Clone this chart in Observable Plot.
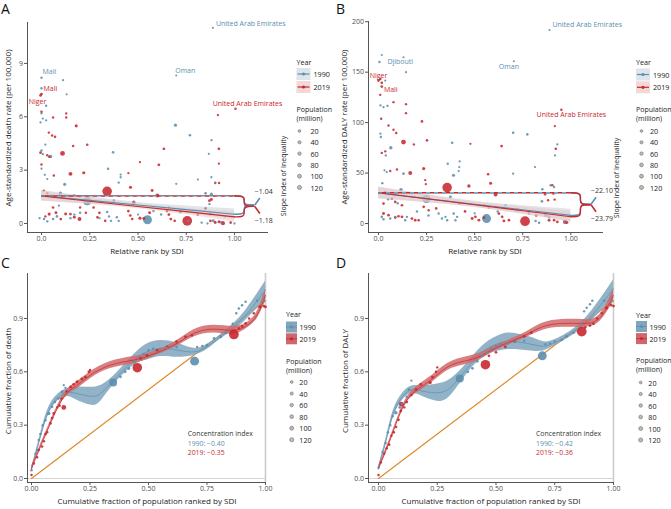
<!DOCTYPE html>
<html><head><meta charset="utf-8">
<script src="https://cdn.jsdelivr.net/npm/d3@7"></script>
<script src="https://cdn.jsdelivr.net/npm/@observablehq/plot@0.6"></script>
<style>
body{margin:0;background:#fff;font-family:"Open Sans",sans-serif;}
#root{position:relative;width:671px;height:509px;overflow:hidden;background:#fff;}
.panel{position:absolute;overflow:visible;}
#overlay{position:absolute;left:0;top:0;}
</style></head><body><div id="root"></div>
<script>
// ---------- data ----------
const years = ["1990", "2019"];
const popLegend = [20, 40, 60, 80, 100, 120];
const rankTicks = [0, 0.25, 0.5, 0.75, 1];
const rankTickLabels = ["0.0", "0.25", "0.50", "0.75", "1.00"];
const fracTickLabels = ["0.00", "0.25", "0.50", "0.75", "1.00"];
const deathRateTicks = [0, 3, 6, 9];
const dalyRateTicks = [0, 50, 100, 150, 200];
const fracYTicks = [0, 0.3, 0.6, 0.9];
const fracYLabels = ["0.0", "0.3", "0.6", "0.9"];

// Panel A: [relative rank, death rate, population (million)]
const deathRank1990 = [
[0.888,11.0,3],[0.0,8.19,8],[0.112,8.06,5],[0.698,8.32,2],[0.0,7.6,8],[0.13,7.26,5],[0.024,6.62,8],
[0.0,6.19,6],[-0.005,5.68,6],[0.007,5.9,6],[0.024,5.8,6],[0.694,5.53,40],[0.769,4.96,15],[0.881,4.68,5],
[0.0,4.1,10],[0.007,3.9,6],[0.047,3.77,60],[0.02,4.43,5],[0.371,4.0,15],[0.867,3.92,5],[0.0,3.08,5],
[0.017,2.74,5],[0.03,2.5,5],[0.345,3.08,15],[0.41,2.75,5],[0.41,2.6,5],[0.40,2.3,8],[0.698,2.23,5],
[0.81,2.47,4],[0.88,2.6,5],[0.9,2.3,5],[0.12,2.2,40],[0.05,1.56,10],[0.098,1.7,60],[0.237,1.25,870],
[0.375,1.28,25],[0.478,1.09,20],[0.549,0.21,1150],[0.72,0.68,80],[0.85,1.7,20],[0.875,0.53,60],
[0.89,0.15,30],[0.93,0.07,10],[1.0,0.0,5],[-0.01,0.3,5],[0.013,0.25,10],[0.03,0.12,8],[0.06,0.25,10],
[0.08,0.4,15],[0.34,0.65,10],[0.35,0.4,8],[0.36,0.15,8],[0.39,0.35,10],[0.40,0.15,8],[0.76,0.15,8],
[0.83,0.05,10],[0.86,0.0,5],[0.2,0.6,10],[0.15,0.3,8],[0.09,1.0,6],[0.17,0.5,8],[0.62,0.5,10],
[0.66,0.9,10],[0.95,0.4,8],[0.58,0.7,10],[0.87,1.1,8],[0.88,1.65,40],[0.3,0.3,6],[0.5,0.5,5]
];
const deathRank2019 = [
[0.0,7.28,20],[-0.005,7.2,20],[0.0,6.28,15],[0.128,6.19,8],[0.128,5.96,8],[0.06,5.96,8],[0.18,5.49,40],
[1.005,6.45,10],[0.914,6.09,6],[0.038,5.11,8],[0.055,4.95,8],[0.07,4.87,12],[0.164,4.36,8],[0.237,4.43,15],
[0.109,3.94,200],[0.634,4.2,20],[0.919,4.2,20],[-0.005,3.98,20],[0.03,3.84,8],[0.04,3.75,8],[0.0,3.32,8],
[0.608,3.3,25],[0.51,3.45,5],[0.919,3.36,5],[0.15,2.79,100],[0.219,2.85,40],[0.064,2.7,10],[0.34,1.81,1370],
[0.461,2.04,40],[0.45,2.83,5],[0.9,2.28,8],[0.92,2.28,8],[0.573,1.85,30],[0.6,1.57,100],[0.87,1.28,20],
[0.478,1.19,60],[0.168,1.57,10],[0.012,1.85,8],[0.03,1.7,8],[0.197,0.25,100],[0.51,0.3,40],[0.53,0.28,30],
[0.755,0.15,1430],[0.94,0.02,120],[0.875,0.15,20],[0.9,0.06,30],[0.92,0.1,40],[0.98,0.05,20],[0.04,0.53,40],
[0.075,0.6,30],[0.1,0.25,20],[0.125,0.53,30],[0.15,0.53,20],[0.17,0.35,30],[0.27,0.9,15],[0.3,0.6,20],
[0.29,0.35,20],[0.65,0.7,20],[0.66,0.5,25],[0.67,0.25,25],[0.69,0.15,15],[0.45,0.7,20],[0.46,0.45,20],
[0.47,0.25,15],[0.2,0.9,10],[0.23,0.6,10],[0.02,0.4,10],[0.06,0.9,15],[0.81,0.5,15],[0.85,0.85,20],
[0.88,1.35,30],[0.33,0.15,15],[0.56,0.6,30]
];
// Panel B: [relative rank, DALY rate, population (million)]
const dalyRank1990 = [
[0.889,191.8,3],[0.017,167,3],[0.005,160,8],[0.13,164.7,3],[0.143,150,3],[0.035,141.7,5],[0.704,160.8,2],
[0.01,117,5],[0.026,115.3,5],[0.047,116.6,8],[0.01,89,5],[0.012,85.7,8],[0.064,75,60],[0.038,67.5,8],
[0.7,90,15],[0.774,88.3,15],[0.93,78.4,5],[0.918,67.5,5],[0.383,80,15],[0.39,47.8,40],[0.36,59.3,10],
[0.422,61.5,5],[0.42,56,5],[0.417,52,5],[0.031,52.7,5],[0.043,51,5],[0.13,49.4,15],[0.7,49.4,5],
[0.814,56,5],[0.852,34,15],[0.895,37.9,8],[0.913,36.2,8],[0.249,24.4,870],[0.117,33.6,60],[0.374,26.4,30],
[0.574,15.8,20],[0.562,4.9,1150],[0.722,13.8,80],[0.783,9.9,20],[0.817,2.6,10],[0.835,0.7,10],[0.87,8.2,60],
[0.887,6.6,40],[0.313,9.9,10],[0.33,4.9,10],[0.348,6.6,8],[0.357,3.3,8],[0.391,9.9,15],[0.409,6.6,8],
[0.4,3.3,8],[0.017,6.6,15],[0.026,4.3,10],[0.061,4.9,10],[0.087,6.6,10],[0.139,3.3,10],[0.148,6.6,10],
[0.968,1.6,8],[0.05,24,10],[0.1,20,10],[0.2,12,10],[0.26,8,10],[0.62,12,10],[0.66,18,10],[0.5,10,5],
[0.85,22,20],[0.02,40,8]
];
const dalyRank2019 = [
[0.0,141.7,20],[0.009,143.3,20],[0.017,139.4,15],[0.017,135.7,20],[0.009,127.5,10],[0.078,120.3,8],
[0.143,118.3,8],[0.143,109.4,8],[0.014,103.8,10],[0.052,97.2,8],[0.078,92.9,8],[0.092,89.6,10],
[0.226,101.2,20],[0.13,80.7,200],[0.184,78.4,8],[0.252,82.4,15],[0.478,79,3],[0.64,76.8,20],
[0.951,112.7,10],[0.917,96.5,5],[0.922,74.1,15],[0.017,70,8],[0.035,71.5,8],[0.061,52,8],[0.096,53.5,8],
[0.165,50,100],[0.235,54.4,40],[0.243,43,5],[0.246,39,5],[0.357,35.6,1370],[0.47,37.2,60],[0.57,48.8,15],
[0.583,39.9,40],[0.609,28.7,100],[0.866,29,15],[0.904,38,8],[0.91,29.6,8],[0.916,23.7,8],[0.882,23,8],
[0.762,2.3,1430],[0.97,1.6,120],[0.98,1.0,30],[0.887,3.3,30],[0.913,3.3,20],[0.93,1.6,20],[0.026,9.9,30],
[0.052,8.2,20],[0.087,5.9,20],[0.104,7.2,20],[0.122,6.6,30],[0.174,4.9,25],[0.191,3.3,20],[0.209,3.3,15],
[0.487,4.9,30],[0.504,6.6,20],[0.522,3.3,25],[0.548,5.9,25],[0.626,9.9,20],[0.643,6.6,20],[0.652,2.6,20],
[0.678,3.3,20],[0.026,19.8,20],[0.035,31.3,10],[0.07,24.7,20],[0.087,21.4,15],[0.122,18.1,20],
[0.235,16.5,20],[0.261,13.2,10],[0.3,15,15],[0.42,20,15],[0.45,12,20],[0.55,18,15],[0.78,12,20],[0.82,8,15]
];
// Regression (slope index of inequality)
const deathIntercepts = [1.56, 1.55];
const deathSII = [-1.04, -1.18];
const dalyIntercepts = [30.2, 30.5];
const dalySII = [-22.10, -23.79];
const rankKnots = [0, 0.25, 0.5, 0.75, 1];
const deathBandHW = [[0.3,0.2,0.14,0.2,0.3],[0.28,0.18,0.13,0.18,0.28]];
const dalyBandHW = [[6,4,3,4,6],[5.5,3.8,2.8,3.8,5.5]];

// Labelled countries: [name, year index, x, y]
const deathLabels = [["United Arab Emirates",0,0.888,11.0],["Mali",0,0.0,8.19],["Oman",0,0.698,8.32],
  ["Mali",1,0.0,7.28],["Niger",1,-0.005,7.2],["United Arab Emirates",1,1.005,6.45]];
const dalyLabels = [["United Arab Emirates",0,0.889,191.8],["Djibouti",0,0.005,160],["Oman",0,0.704,160.8],
  ["Niger",1,0.0,141.7],["Mali",1,0.017,135.7],["United Arab Emirates",1,0.951,112.7]];

// Panel C/D concentration curves (fitted curve readings) and points [cum pop, cum fraction, pop]
const deathConcX1990 = [0,0.038,0.081,0.138,0.188,0.252,0.295,0.352,0.437,0.494,0.551,0.622,0.694,0.75,0.808,0.865,0.922,1.0];
const deathConcY1990 = [0.047,0.234,0.40,0.478,0.48,0.463,0.478,0.553,0.666,0.712,0.731,0.722,0.712,0.74,0.797,0.853,0.928,1.06];
const deathConcHW1990 = [0.012,0.015,0.02,0.02,0.035,0.05,0.045,0.025,0.03,0.045,0.045,0.04,0.02,0.015,0.012,0.02,0.03,0.05];
const deathConcX2019 = [0,0.038,0.081,0.138,0.195,0.252,0.338,0.437,0.509,0.608,0.694,0.78,0.865,0.922,0.964,1.0];
const deathConcY2019 = [0.056,0.178,0.31,0.459,0.525,0.581,0.638,0.666,0.694,0.75,0.816,0.84,0.834,0.862,0.919,1.03];
const deathConcHW2019 = [0.012,0.012,0.012,0.015,0.02,0.02,0.02,0.02,0.015,0.015,0.02,0.022,0.022,0.015,0.02,0.035];
const dalyConcX1990 = [0,0.036,0.071,0.128,0.185,0.256,0.313,0.384,0.455,0.526,0.583,0.669,0.725,0.81,0.896,1.0];
const dalyConcY1990 = [0.056,0.232,0.39,0.492,0.492,0.483,0.52,0.63,0.724,0.766,0.77,0.75,0.75,0.807,0.9,1.067];
const dalyConcHW1990 = [0.012,0.015,0.02,0.02,0.03,0.05,0.045,0.03,0.035,0.045,0.045,0.035,0.02,0.015,0.025,0.05];
const dalyConcX2019 = [0,0.043,0.085,0.128,0.185,0.242,0.313,0.413,0.498,0.612,0.697,0.782,0.868,0.939,1.0];
const dalyConcY2019 = [0.056,0.195,0.343,0.455,0.52,0.575,0.64,0.677,0.733,0.798,0.853,0.872,0.872,0.9,1.03];
const dalyConcHW2019 = [0.012,0.012,0.012,0.015,0.02,0.02,0.02,0.02,0.015,0.015,0.02,0.022,0.022,0.02,0.035];

const deathConcPts1990 = [[0.0,0.047,10],[0.017,0.14,8],[0.024,0.16,8],[0.031,0.216,10],[0.038,0.25,10],[0.048,0.3,10],
[0.06,0.328,10],[0.074,0.366,60],[0.088,0.403,20],[0.1,0.43,10],[0.115,0.45,10],[0.131,0.487,20],[0.138,0.525,5],
[0.145,0.51,5],[0.349,0.54,870],[0.38,0.572,20],[0.40,0.60,20],[0.416,0.619,30],[0.44,0.655,20],[0.46,0.68,20],
[0.48,0.70,20],[0.5,0.72,20],[0.52,0.73,15],[0.55,0.73,15],[0.58,0.735,10],[0.62,0.74,10],[0.697,0.66,1150],
[0.708,0.74,10],[0.73,0.745,10],[0.75,0.75,10],[0.78,0.788,20],[0.808,0.797,40],[0.83,0.82,10],[0.86,0.87,10],
[0.875,0.93,10],[0.886,0.956,10],[0.9,0.975,10],[0.915,0.994,10],[0.964,1.0,10],[0.993,1.0,10]];
const deathConcPts2019 = [[0.0,0.02,10],[0.01,0.084,10],[0.024,0.12,10],[0.031,0.16,10],[0.045,0.18,20],[0.053,0.21,10],
[0.06,0.25,20],[0.067,0.26,10],[0.081,0.31,20],[0.088,0.34,20],[0.095,0.366,20],[0.11,0.4,10],[0.12,0.41,20],
[0.128,0.45,10],[0.138,0.4,200],[0.15,0.49,10],[0.167,0.516,20],[0.18,0.53,10],[0.195,0.544,40],[0.215,0.56,20],
[0.23,0.57,20],[0.245,0.6,20],[0.25,0.61,10],[0.452,0.623,1370],[0.466,0.675,20],[0.494,0.693,20],[0.537,0.722,20],
[0.58,0.74,20],[0.62,0.77,20],[0.658,0.797,20],[0.686,0.806,10],[0.865,0.81,1430],[0.886,0.844,20],[0.9,0.855,20],
[0.915,0.872,20],[0.93,0.9,10],[0.95,0.93,10],[0.976,0.966,40],[0.993,0.97,20],[1.0,0.965,20]];
const dalyConcPts1990 = [[0,0.06,10],[0.017,0.15,8],[0.03,0.2,10],[0.04,0.26,10],[0.05,0.3,10],[0.06,0.35,10],
[0.074,0.37,60],[0.09,0.40,20],[0.1,0.42,10],[0.12,0.46,10],[0.13,0.5,20],[0.14,0.55,5],[0.346,0.562,870],
[0.38,0.6,20],[0.4,0.62,20],[0.42,0.66,30],[0.44,0.69,20],[0.46,0.71,20],[0.48,0.73,20],[0.5,0.745,20],
[0.52,0.755,15],[0.55,0.76,15],[0.58,0.77,10],[0.62,0.775,10],[0.697,0.69,1150],[0.71,0.755,10],[0.73,0.76,10],
[0.75,0.77,10],[0.78,0.78,20],[0.8,0.8,40],[0.83,0.82,10],[0.86,0.87,10],[0.875,0.94,10],[0.886,0.96,10],
[0.9,0.98,10],[0.91,1.0,10],[0.96,1.0,10],[0.99,1.0,10]];
const dalyConcPts2019 = [[0,0.02,10],[0.01,0.09,10],[0.024,0.14,10],[0.035,0.17,10],[0.045,0.19,20],[0.055,0.24,10],
[0.065,0.26,20],[0.075,0.29,10],[0.085,0.33,20],[0.095,0.38,20],[0.097,0.418,200],[0.11,0.4,10],[0.12,0.43,20],
[0.14,0.47,10],[0.16,0.5,20],[0.18,0.53,10],[0.22,0.54,40],[0.23,0.57,20],[0.245,0.6,20],[0.25,0.625,10],
[0.455,0.64,1370],[0.47,0.69,20],[0.5,0.71,20],[0.54,0.74,20],[0.58,0.77,20],[0.62,0.8,20],[0.65,0.82,20],
[0.865,0.826,1430],[0.88,0.85,20],[0.9,0.86,20],[0.915,0.87,20],[0.93,0.9,10],[0.95,0.93,10],[0.97,0.96,40],
[0.99,0.975,20],[1.0,0.97,20]];
const equalityLine = [[0,0],[1,1]];
const concIndexDeath = ["\u22120.40", "\u22120.35"];
const concIndexDaly = ["\u22120.42", "\u22120.36"];

// ---------- styles ----------
const yearColors = ["#5b8fae", "#c8282e"];
const bandFills = ["#c2ccd4", "#ebc3c4"];
const keyBg = ["#dde4ea", "#f3d8d8"];
const concBandFills = ["#7fa6bd", "#d0686b"];
const diagColor = "#e0892a";
const axisColor = "#555";
const tickText = "#4d4d4d";
const rDomain = [0, 1450], rRange = [0.9, 4.9];
const rOf = v => rRange[0] + (rRange[1] - rRange[0]) * Math.sqrt(v / rDomain[1]);
const fmt = v => (v < 0 ? "\u2212" : "") + Math.abs(v).toFixed(2);

const root = document.getElementById("root");

function place(node, left, top) {
  node.classList.add("panel");
  node.style.left = left + "px";
  node.style.top = top + "px";
  root.appendChild(node);
}

function toPts(arrs) {
  const pts = [];
  arrs.forEach((arr, k) => arr.forEach(([x, y, p]) => pts.push({x, y, pop: p, c: yearColors[k]})));
  pts.sort((a, b) => b.pop - a.pop);
  return pts;
}

function rankPanel(cfg) {
  const [ml, mr, mt, mb] = cfg.margins;
  const pxX = (cfg.width - ml - mr) / (cfg.xdom[1] - cfg.xdom[0]);
  const pxY = (cfg.height - mt - mb) / (cfg.ydom[1] - cfg.ydom[0]);
  const marks = [];
  marks.push(Plot.dot(toPts(cfg.points), {x: "x", y: "y", r: "pop", fill: "c", fillOpacity: 0.88}));
  years.forEach((yr, k) => {
    const band = rankKnots.map((x, i) => {
      const f = cfg.intercepts[k] + cfg.slopes[k] * x;
      return {x, lo: f - cfg.bandHW[k][i], hi: f + cfg.bandHW[k][i]};
    });
    marks.push(Plot.areaY(band, {x: "x", y1: "lo", y2: "hi", fill: bandFills[k], fillOpacity: 0.5, curve: "natural"}));
  });
  years.forEach((yr, k) => {
    const line = rankKnots.map(x => ({x, y: cfg.intercepts[k] + cfg.slopes[k] * x}));
    marks.push(Plot.line(line, {x: "x", y: "y", stroke: yearColors[k], strokeWidth: 1.1}));
  });
  const x0 = 1.0, xv = 1.05, xt = 1.1;
  years.forEach((yr, k) => {
    const top = cfg.intercepts[k], bot = cfg.intercepts[k] + cfg.slopes[k];
    const mid = (top + bot) / 2, d = 5 / pxY;
    marks.push(Plot.ruleY([{y: top, x1: 0, x2: x0}], {y: "y", x1: "x1", x2: "x2", stroke: yearColors[k], strokeWidth: 1.4,
      strokeDasharray: "4,4", strokeDashoffset: k * 4}));
    const brace = [
      {x: x0, y: top, p: 0}, {x: xv, y: top, p: 0}, {x: xv, y: top - d, p: 0}, {x: xv, y: mid + d, p: 0}, {x: xv, y: mid, p: 0}, {x: xt, y: mid, p: 0},
      {x: xt, y: mid, p: 1}, {x: xv, y: mid, p: 1}, {x: xv, y: mid - d, p: 1}, {x: xv, y: bot + d, p: 1}, {x: xv, y: bot, p: 1}, {x: x0, y: bot, p: 1}
    ];
    marks.push(Plot.line(brace, {x: "x", y: "y", z: "p", curve: "basis", stroke: yearColors[k], strokeWidth: 1.4}));
    const sgn = k === 0 ? 1 : -1;
    marks.push(Plot.link([{x1: xt + 1 / pxX, y1: mid, x2: xt + 6 / pxX, y2: mid + sgn * 7 / pxY}],
      {x1: "x1", y1: "y1", x2: "x2", y2: "y2", stroke: yearColors[k], strokeWidth: 1.6}));
    marks.push(Plot.text([{x: xt, y: mid, t: fmt(cfg.slopes[k])}], {x: "x", y: "y", text: "t", dx: 1, dy: k === 0 ? -13 : 14,
      textAnchor: "start", fill: "#333", fontSize: 7}));
  });
  cfg.labels.forEach(([name, k, x, y], i) => {
    const [dx, dy, anchor] = cfg.labelOffsets[i];
    marks.push(Plot.text([{x, y, name}], {x: "x", y: "y", text: "name", dx, dy, textAnchor: anchor, fill: yearColors[k], fontSize: 7}));
  });
  marks.push(Plot.ruleX([cfg.xdom[0]], {stroke: axisColor}));
  marks.push(Plot.ruleY([cfg.ydom[0]], {stroke: axisColor}));
  marks.push(Plot.axisX({ticks: rankTicks, tickFormat: v => rankTickLabels[rankTicks.indexOf(v)], tickSize: 3, tickPadding: 1,
    label: null, fontSize: 7, fill: tickText, stroke: axisColor}));
  marks.push(Plot.axisY({ticks: cfg.yTicks, tickFormat: v => String(v), tickSize: 3, tickPadding: 1.5,
    label: null, fontSize: 7, fill: tickText, stroke: axisColor}));
  return Plot.plot({
    width: cfg.width, height: cfg.height, marginLeft: ml, marginRight: mr, marginTop: mt, marginBottom: mb,
    x: {domain: cfg.xdom}, y: {domain: cfg.ydom},
    r: {type: "sqrt", domain: rDomain, range: rRange},
    style: {fontFamily: "Open Sans", fontSize: "7px", background: "transparent", overflow: "visible"},
    marks
  });
}

function concPanel(cfg) {
  const [ml, mr, mt, mb] = cfg.margins;
  const marks = [];
  marks.push(Plot.ruleY([0], {stroke: "#d4d4d4", strokeWidth: 1}));
  marks.push(Plot.ruleX([1], {stroke: "#cccccc", strokeWidth: 1.6}));
  marks.push(Plot.line(equalityLine, {x: d => d[0], y: d => d[1], stroke: diagColor, strokeWidth: 1.2}));
  years.forEach((yr, k) => {
    const band = cfg.curveX[k].map((x, i) => ({x, y: cfg.curveY[k][i], lo: cfg.curveY[k][i] - cfg.curveHW[k][i], hi: cfg.curveY[k][i] + cfg.curveHW[k][i]}));
    marks.push(Plot.areaY(band, {x: "x", y1: "lo", y2: "hi", fill: concBandFills[k], fillOpacity: 0.85, curve: "natural"}));
    marks.push(Plot.line(band, {x: "x", y: "y", stroke: yearColors[k], strokeWidth: 0.7, curve: "natural"}));
  });
  marks.push(Plot.dot(toPts(cfg.points), {x: "x", y: "y", r: "pop", fill: "c", fillOpacity: 0.9}));
  marks.push(Plot.ruleX([cfg.xdom[0]], {stroke: axisColor}));
  marks.push(Plot.ruleY([cfg.ydom[0]], {stroke: axisColor}));
  marks.push(Plot.axisX({ticks: rankTicks, tickFormat: v => fracTickLabels[rankTicks.indexOf(v)], tickSize: 3, tickPadding: 1,
    label: null, fontSize: 7, fill: tickText, stroke: axisColor}));
  marks.push(Plot.axisY({ticks: fracYTicks, tickFormat: v => fracYLabels[fracYTicks.indexOf(v)], tickSize: 3, tickPadding: 1.5,
    label: null, fontSize: 7, fill: tickText, stroke: axisColor}));
  return Plot.plot({
    width: cfg.width, height: cfg.height, marginLeft: ml, marginRight: mr, marginTop: mt, marginBottom: mb,
    x: {domain: cfg.xdom}, y: {domain: cfg.ydom},
    r: {type: "sqrt", domain: rDomain, range: rRange},
    style: {fontFamily: "Open Sans", fontSize: "7px", background: "transparent", overflow: "visible"},
    marks
  });
}

place(rankPanel({
  width: 335, height: 255, margins: [27, 67, 22, 23], xdom: [-0.0725, 1.176], ydom: [-0.506, 11.3],
  yTicks: deathRateTicks, points: [deathRank1990, deathRank2019], intercepts: deathIntercepts, slopes: deathSII,
  bandHW: deathBandHW, labels: deathLabels,
  labelOffsets: [[3, -4, "start"], [1, -6, "start"], [9, -5, "middle"], [2, -5, "start"], [-3, 6, "middle"], [12, -5, "middle"]]
}), 0, 0);

place(rankPanel({
  width: 335, height: 255, margins: [33, 67, 21, 23], xdom: [-0.052, 1.17], ydom: [-8.9, 200.2],
  yTicks: dalyRateTicks, points: [dalyRank1990, dalyRank2019], intercepts: dalyIntercepts, slopes: dalySII,
  bandHW: dalyBandHW, labels: dalyLabels,
  labelOffsets: [[3, -5, "start"], [8, 0, "start"], [-5, 5, "middle"], [0, -5, "middle"], [9, 3, "middle"], [10, 5, "middle"]]
}), 335, 0);

place(concPanel({
  width: 335, height: 259, margins: [27, 69, 23, 27], xdom: [-0.0171, 1.0043], ydom: [-0.0225, 1.153],
  points: [deathConcPts1990, deathConcPts2019],
  curveX: [deathConcX1990, deathConcX2019], curveY: [deathConcY1990, deathConcY2019], curveHW: [deathConcHW1990, deathConcHW2019]
}), 0, 250);

place(concPanel({
  width: 335, height: 259, margins: [33, 56, 23, 27], xdom: [-0.0426, 1.0043], ydom: [-0.0225, 1.153],
  points: [dalyConcPts1990, dalyConcPts2019],
  curveX: [dalyConcX1990, dalyConcX2019], curveY: [dalyConcY1990, dalyConcY2019], curveHW: [dalyConcHW1990, dalyConcHW2019]
}), 335, 250);

// ---------- overlay: panel letters, axis titles, legends, notes ----------
const svg = d3.select(root).append("svg").attr("id", "overlay").attr("width", 671).attr("height", 509)
  .style("font-family", "Open Sans");
function txt(x, y, s, o = {}) {
  const t = svg.append("text").attr("dominant-baseline", "central").attr("font-size", o.size || 7.2)
    .attr("fill", o.fill || "#1a1a1a").attr("text-anchor", o.anchor || "start").text(s);
  if (o.rotate) t.attr("transform", `translate(${x},${y}) rotate(-90)`);
  else t.attr("x", x).attr("y", y);
  return t;
}
[["A", 1, 8], ["B", 336, 8], ["C", 1, 262], ["D", 336, 262]].forEach(([s, x, y]) => txt(x, y, s, {size: 14, fill: "#111"}));

txt(7.5, 128, "Age-standardized death rate (per 100,000)", {size: 8, anchor: "middle", rotate: true});
txt(147, 250.5, "Relative rank by SDI", {size: 8, anchor: "middle"});
txt(343, 127, "Age-standardized DALY rate (per 100,000)", {size: 8, anchor: "middle", rotate: true});
txt(485, 250.5, "Relative rank by SDI", {size: 8, anchor: "middle"});
txt(7.5, 381, "Cumulative fraction of death", {size: 8, anchor: "middle", rotate: true});
txt(147, 500.5, "Cumulative fraction of population ranked by SDI", {size: 8, anchor: "middle"});
txt(344, 381, "Cumulative fraction of DALY", {size: 8, anchor: "middle", rotate: true});
txt(491, 500.5, "Cumulative fraction of population ranked by SDI", {size: 8, anchor: "middle"});

function rankLegend(L) {
  txt(L.x, L.yearY, "Year");
  years.forEach((yr, k) => {
    const cy = L.keyY[k];
    svg.append("rect").attr("x", L.x).attr("y", cy - 6).attr("width", 14).attr("height", 12).attr("fill", keyBg[k]);
    svg.append("line").attr("x1", L.x + 1).attr("x2", L.x + 13).attr("y1", cy).attr("y2", cy).attr("stroke", yearColors[k]).attr("stroke-width", 1.2);
    svg.append("circle").attr("cx", L.x + 7).attr("cy", cy).attr("r", 1.6).attr("fill", yearColors[k]);
    txt(L.x + 17, cy, yr);
  });
  sizeLegend(L);
  txt(L.siiX, L.siiY, "Slope Index of Inequality", {anchor: "middle", rotate: true, size: 7});
}
function concLegend(L) {
  txt(L.x, L.yearY, "Year");
  years.forEach((yr, k) => {
    const cy = L.keyY[k];
    svg.append("rect").attr("x", L.x).attr("y", cy - 5.5).attr("width", 11).attr("height", 11).attr("fill", concBandFills[k]);
    svg.append("line").attr("x1", L.x).attr("x2", L.x + 11).attr("y1", cy).attr("y2", cy).attr("stroke", yearColors[k]).attr("stroke-width", 0.8);
    svg.append("circle").attr("cx", L.x + 5.5).attr("cy", cy).attr("r", 1.6).attr("fill", yearColors[k]);
    txt(L.x + 13.5, cy, yr);
  });
  sizeLegend(L);
}
function sizeLegend(L) {
  txt(L.x, L.popY - 1, "Population", {size: 7});
  txt(L.x, L.popY + 8.2, "(million)", {size: 7});
  popLegend.forEach((v, i) => {
    const cy = L.sizeY0 + i * L.sizeStep;
    svg.append("circle").attr("cx", L.dotX).attr("cy", cy).attr("r", rOf(v)).attr("fill", "#bdbdbd").attr("stroke", "#6a6a6a").attr("stroke-width", 0.6);
    txt(L.textX, cy, String(v));
  });
}
rankLegend({x: 296.5, yearY: 62, keyY: [74, 87], popY: 110, dotX: 299.5, textX: 310.5, sizeY0: 131, sizeStep: 11.3, siiX: 283.5, siiY: 176});
rankLegend({x: 636, yearY: 62, keyY: [74.5, 87.3], popY: 110, dotX: 641.5, textX: 650, sizeY0: 131, sizeStep: 11.3, siiX: 616.7, siiY: 178});
concLegend({x: 286, yearY: 314, keyY: [327, 338.8], popY: 362.3, dotX: 291.7, textX: 299.3, sizeY0: 382, sizeStep: 11.55});
concLegend({x: 636, yearY: 315, keyY: [326.5, 338.6], popY: 361.7, dotX: 640.7, textX: 648.3, sizeY0: 382.5, sizeStep: 11.5});

function concNote(x, vals) {
  txt(x, 433.6, "Concentration index", {size: 6.9, fill: "#333"});
  years.forEach((yr, k) => txt(x, 443 + k * 9.3, `${yr}: ${vals[k]}`, {size: 6.9, fill: yearColors[k]}));
}
concNote(187.7, concIndexDeath);
concNote(536, concIndexDaly);
</script></body></html>
